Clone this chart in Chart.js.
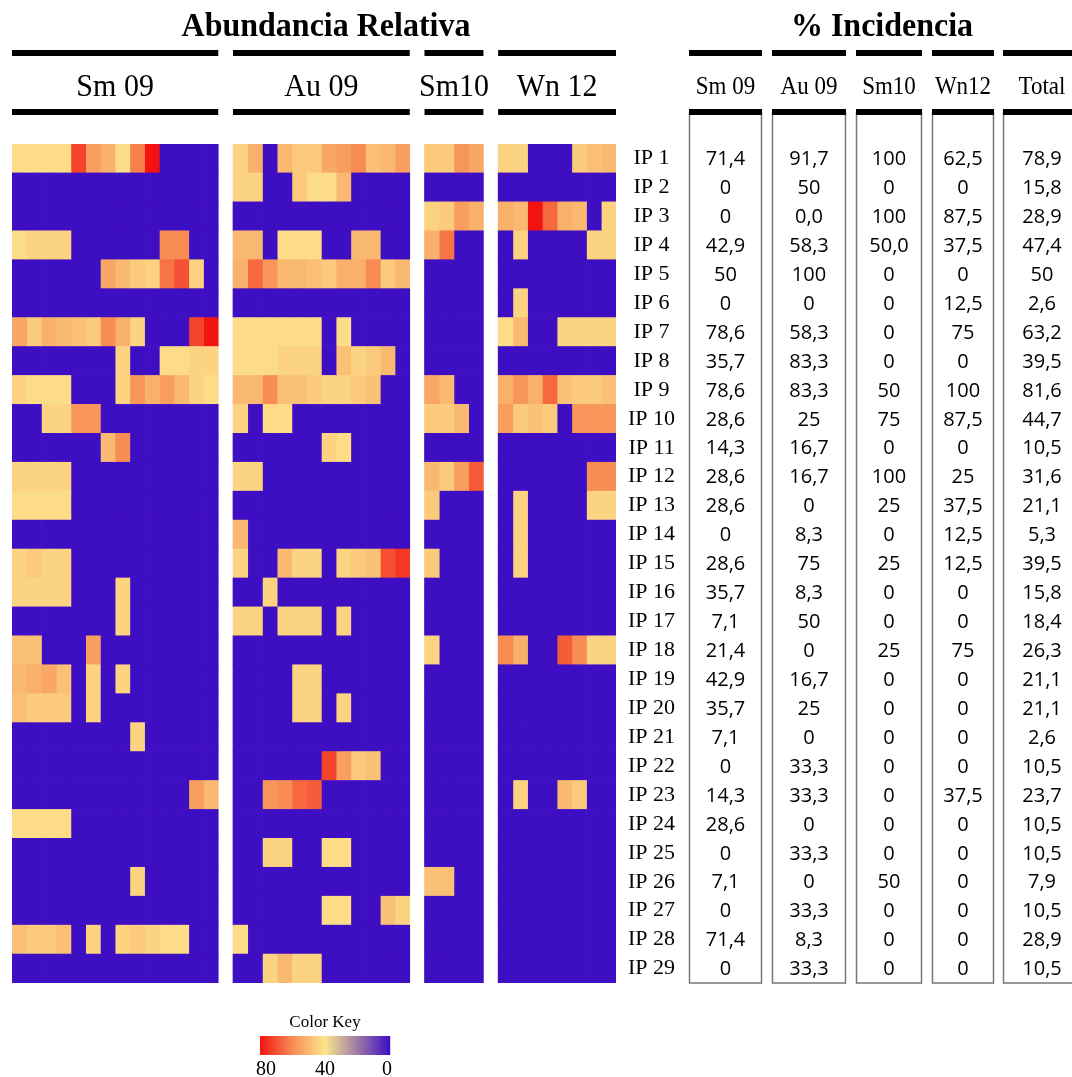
<!DOCTYPE html>
<html>
<head>
<meta charset="utf-8">
<script src="https://cdn.jsdelivr.net/npm/chart.js@4.4.1/dist/chart.umd.min.js"></script>
<style>
html,body{margin:0;padding:0;background:#fff;}
#wrap{position:relative;width:1072px;height:1077px;}
</style>
</head>
<body>
<div id="wrap"><canvas id="c" width="1072" height="1077"></canvas></div>
<script>
// ---------- DATA ----------
const rowLabels = ['IP 1','IP 2','IP 3','IP 4','IP 5','IP 6','IP 7','IP 8','IP 9','IP 10',
  'IP 11','IP 12','IP 13','IP 14','IP 15','IP 16','IP 17','IP 18','IP 19','IP 20',
  'IP 21','IP 22','IP 23','IP 24','IP 25','IP 26','IP 27','IP 28','IP 29'];

const groupNames = ['Sm 09', 'Au 09', 'Sm10', 'Wn 12'];

// relative abundance per sample (estimated from colour), rows = IP 1..IP 29
const abSm09 = [
  [42,42,42,42,72,56,52,42,62,80,0,0,0,0],
  [0,0,0,0,0,0,0,0,0,0,0,0,0,0],
  [0,0,0,0,0,0,0,0,0,0,0,0,0,0],
  [42,44,44,44,0,0,0,0,0,0,60,60,0,0],
  [0,0,0,0,0,0,54,50,46,44,64,70,44,0],
  [0,0,0,0,0,0,0,0,0,0,0,0,0,0],
  [54,46,52,50,48,46,60,52,44,0,0,0,72,80],
  [0,0,0,0,0,0,0,44,0,0,42,42,44,44],
  [44,42,42,42,0,0,0,44,58,52,56,50,44,42],
  [0,0,44,44,58,58,0,0,0,0,0,0,0,0],
  [0,0,0,0,0,0,50,60,0,0,0,0,0,0],
  [44,44,44,44,0,0,0,0,0,0,0,0,0,0],
  [42,42,42,42,0,0,0,0,0,0,0,0,0,0],
  [0,0,0,0,0,0,0,0,0,0,0,0,0,0],
  [44,46,44,44,0,0,0,0,0,0,0,0,0,0],
  [44,44,44,44,0,0,0,44,0,0,0,0,0,0],
  [0,0,0,0,0,0,0,44,0,0,0,0,0,0],
  [48,48,0,0,0,56,0,0,0,0,0,0,0,0],
  [50,52,54,48,0,44,0,44,0,0,0,0,0,0],
  [48,46,46,46,0,44,0,0,0,0,0,0,0,0],
  [0,0,0,0,0,0,0,0,44,0,0,0,0,0],
  [0,0,0,0,0,0,0,0,0,0,0,0,0,0],
  [0,0,0,0,0,0,0,0,0,0,0,0,56,50],
  [42,42,42,42,0,0,0,0,0,0,0,0,0,0],
  [0,0,0,0,0,0,0,0,0,0,0,0,0,0],
  [0,0,0,0,0,0,0,0,44,0,0,0,0,0],
  [0,0,0,0,0,0,0,0,0,0,0,0,0,0],
  [48,46,46,48,0,44,0,44,46,44,42,42,0,0],
  [0,0,0,0,0,0,0,0,0,0,0,0,0,0]
];
const abAu09 = [
  [44,52,0,50,46,46,54,56,60,48,50,56],
  [44,44,0,0,46,42,42,50,0,0,0,0],
  [0,0,0,0,0,0,0,0,0,0,0,0],
  [50,50,0,42,42,42,0,0,50,50,0,0],
  [52,66,58,50,50,48,46,52,52,60,46,50],
  [0,0,0,0,0,0,0,0,0,0,0,0],
  [42,42,42,42,42,42,0,42,0,0,0,0],
  [42,42,42,44,44,44,0,48,44,46,50,0],
  [50,50,60,48,48,46,44,44,46,48,0,0],
  [44,0,42,42,0,0,0,0,0,0,0,0],
  [0,0,0,0,0,0,44,42,0,0,0,0],
  [44,44,0,0,0,0,0,0,0,0,0,0],
  [0,0,0,0,0,0,0,0,0,0,0,0],
  [50,0,0,0,0,0,0,0,0,0,0,0],
  [44,0,0,50,44,44,0,44,46,48,70,74],
  [0,0,44,0,0,0,0,0,0,0,0,0],
  [44,44,0,44,44,44,0,44,0,0,0,0],
  [0,0,0,0,0,0,0,0,0,0,0,0],
  [0,0,0,0,44,44,0,0,0,0,0,0],
  [0,0,0,0,44,44,0,44,0,0,0,0],
  [0,0,0,0,0,0,0,0,0,0,0,0],
  [0,0,0,0,0,0,72,56,46,48,0,0],
  [0,0,58,60,66,68,0,0,0,0,0,0],
  [0,0,0,0,0,0,0,0,0,0,0,0],
  [0,0,44,44,0,0,42,42,0,0,0,0],
  [0,0,0,0,0,0,0,0,0,0,0,0],
  [0,0,0,0,0,0,42,42,0,0,48,44],
  [42,0,0,0,0,0,0,0,0,0,0,0],
  [0,0,44,50,44,44,0,0,0,0,0,0]
];
const abSm10 = [
  [46,46,58,54],[0,0,0,0],[44,46,56,52],[52,64,0,0],[0,0,0,0],
  [0,0,0,0],[0,0,0,0],[0,0,0,0],[54,50,0,0],[46,46,50,0],
  [0,0,0,0],[50,46,56,68],[46,0,0,0],[0,0,0,0],[46,0,0,0],
  [0,0,0,0],[0,0,0,0],[44,0,0,0],[0,0,0,0],[0,0,0,0],
  [0,0,0,0],[0,0,0,0],[0,0,0,0],[0,0,0,0],[0,0,0,0],
  [48,48,0,0],[0,0,0,0],[0,0,0,0],[0,0,0,0]
];
const abWn12 = [
  [44,44,0,0,0,46,48,50],
  [0,0,0,0,0,0,0,0],
  [52,50,80,66,52,50,0,44],
  [0,44,0,0,0,0,44,44],
  [0,0,0,0,0,0,0,0],
  [0,44,0,0,0,0,0,0],
  [42,50,0,0,44,44,44,44],
  [0,0,0,0,0,0,0,0],
  [52,58,52,66,48,46,46,48],
  [56,46,48,46,0,58,58,58],
  [0,0,0,0,0,0,0,0],
  [0,0,0,0,0,0,60,60],
  [0,44,0,0,0,0,44,44],
  [0,44,0,0,0,0,0,0],
  [0,44,0,0,0,0,0,0],
  [0,0,0,0,0,0,0,0],
  [0,0,0,0,0,0,0,0],
  [60,52,0,0,68,60,44,44],
  [0,0,0,0,0,0,0,0],
  [0,0,0,0,0,0,0,0],
  [0,0,0,0,0,0,0,0],
  [0,0,0,0,0,0,0,0],
  [0,44,0,0,50,46,0,0],
  [0,0,0,0,0,0,0,0],
  [0,0,0,0,0,0,0,0],
  [0,0,0,0,0,0,0,0],
  [0,0,0,0,0,0,0,0],
  [0,0,0,0,0,0,0,0],
  [0,0,0,0,0,0,0,0]
];

// % incidence table
const incHeaders = ['Sm 09', 'Au 09', 'Sm10', 'Wn12', 'Total'];
const incSm09 = ['71,4','0','0','42,9','50','0','78,6','35,7','78,6','28,6','14,3','28,6','28,6','0','28,6','35,7','7,1','21,4','42,9','35,7','7,1','0','14,3','28,6','0','7,1','0','71,4','0'];
const incAu09 = ['91,7','50','0,0','58,3','100','0','58,3','83,3','83,3','25','16,7','16,7','0','8,3','75','8,3','50','0','16,7','25','0','33,3','33,3','0','33,3','0','33,3','8,3','33,3'];
const incSm10 = ['100','0','100','50,0','0','0','0','0','50','75','0','100','25','0','25','0','0','25','0','0','0','0','0','0','0','50','0','0','0'];
const incWn12 = ['62,5','0','87,5','37,5','0','12,5','75','0','100','87,5','0','25','37,5','12,5','12,5','0','0','75','0','0','0','0','37,5','0','0','0','0','0','0'];
const incTotal = ['78,9','15,8','28,9','47,4','50','2,6','63,2','39,5','81,6','44,7','10,5','31,6','21,1','5,3','39,5','15,8','18,4','26,3','21,1','21,1','2,6','10,5','23,7','10,5','10,5','7,9','10,5','28,9','10,5'];

const keyTicks = [80, 40, 0];

// ---------- COLOUR SCALE ----------
const stops = [[0,[62,14,194]],[40,[252,229,140]],[60,[247,140,84]],[80,[243,20,18]]];
function colorFor(v){
  if (v <= 0) return 'rgb(62,14,194)';
  for (let i=1;i<stops.length;i++){
    if (v <= stops[i][0]){
      const [v0,c0]=stops[i-1],[v1,c1]=stops[i];
      const t=(v-v0)/(v1-v0);
      const c=c0.map((a,k)=>Math.round(a+(c1[k]-a)*t));
      return `rgb(${c[0]},${c[1]},${c[2]})`;
    }
  }
  const c=stops[stops.length-1][1];
  return `rgb(${c[0]},${c[1]},${c[2]})`;
}

// ---------- BUILD DATASETS ----------
const groups = [abSm09, abAu09, abSm10, abWn12];
const datasets = [];
const groupSpans = [];
let colIndex = 0;
groups.forEach((g, gi) => {
  if (gi > 0) { // spacer column between groups
    datasets.push({data: rowLabels.map(()=>1), backgroundColor: 'rgba(0,0,0,0)', inflateAmount: 0});
    colIndex++;
  }
  const nCols = g[0].length;
  groupSpans.push([colIndex, colIndex + nCols]);
  for (let c=0;c<nCols;c++){
    datasets.push({
      data: rowLabels.map(()=>1),
      backgroundColor: g.map(row => colorFor(row[c]))
    });
    colIndex++;
  }
});
const totalCols = colIndex;

// ---------- DECORATION PLUGIN ----------
const SERIF = '"Liberation Serif", "Times New Roman", serif';
const SANS = '"Open Sans", "Noto Sans", sans-serif';
function stretchedText(ctx, txt, x, y, font, sy){
  ctx.save();
  ctx.font = font;
  ctx.translate(x, y);
  ctx.scale(1, sy);
  ctx.fillText(txt, 0, 0);
  ctx.restore();
}
const tableCols = [[689,762],[772,846],[856,922],[932,994],[1003,1080]];
const tableVals = [incSm09, incAu09, incSm10, incWn12, incTotal];

const decor = {
  id: 'decor',
  afterDraw(chart){
    const ctx = chart.ctx;
    const xS = chart.scales.x, yS = chart.scales.y;
    ctx.save();
    ctx.fillStyle = '#000';
    ctx.textAlign = 'center';
    ctx.textBaseline = 'alphabetic';
    // titles
    stretchedText(ctx, 'Abundancia Relativa', 326, 36, 'bold 32px ' + SERIF, 1.08);
    stretchedText(ctx, '% Incidencia', 882, 36, 'bold 32px ' + SERIF, 1.08);
    // heatmap group bars and labels
    groupSpans.forEach(([a,b], gi) => {
      const x0 = xS.getPixelForValue(a), x1 = xS.getPixelForValue(b);
      ctx.fillStyle = '#000';
      ctx.fillRect(x0, 50, x1-x0, 6);
      ctx.fillRect(x0, 109, x1-x0, 6);
      stretchedText(ctx, groupNames[gi], (x0+x1)/2, 96, '30px ' + SERIF, 1.08);
    });
    // incidence table
    tableCols.forEach(([x0,x1], ci) => {
      ctx.strokeStyle = '#777';
      ctx.lineWidth = 1.5;
      ctx.strokeRect(x0+0.5, 113, x1-x0-1, 983-113);
      ctx.fillStyle = '#000';
      ctx.fillRect(x0, 50, x1-x0, 6);
      ctx.fillRect(x0, 109, x1-x0, 6);
      const cx = ci === 4 ? 1042 : (x0+x1)/2;
      stretchedText(ctx, incHeaders[ci], cx, 94, '23px ' + SERIF, 1.06);
      ctx.font = '20px ' + SANS;
      ctx.textBaseline = 'middle';
      tableVals[ci].forEach((v, ri) => {
        ctx.fillText(v, cx, yS.getPixelForValue(ri) + 1);
      });
      ctx.textBaseline = 'alphabetic';
    });
    // colour key
    const kx0 = 260, kx1 = 390, ky0 = 1036, ky1 = 1055;
    const maxV = keyTicks[0];
    for (let px = kx0; px < kx1; px++){
      const v = maxV * (1 - (px - kx0 + 0.5)/(kx1 - kx0));
      ctx.fillStyle = colorFor(v);
      ctx.fillRect(px, ky0, 1.2, ky1-ky0);
    }
    ctx.fillStyle = '#000';
    ctx.font = '17px ' + SERIF;
    ctx.textAlign = 'center';
    ctx.fillText('Color Key', 325, 1027);
    ctx.font = '20px ' + SERIF;
    keyTicks.forEach(t => {
      const px = kx0 + (1 - t/maxV)*(kx1-kx0);
      ctx.fillText(String(t), px + (t===maxV?6:(t===0?-3:0)), 1075);
    });
    ctx.restore();
  }
};

new Chart(document.getElementById('c'), {
  type: 'bar',
  data: { labels: rowLabels, datasets },
  options: {
    indexAxis: 'y',
    responsive: false,
    animation: false,
    events: [],
    layout: { padding: { left: 12, top: 144, right: 384, bottom: 94 } },
    datasets: { bar: { barPercentage: 1, categoryPercentage: 1, borderWidth: 0 } },
    plugins: { legend: { display: false }, tooltip: { enabled: false } },
    scales: {
      x: { type: 'linear', stacked: true, min: 0, max: totalCols, display: false },
      y: {
        stacked: true,
        position: 'right',
        grid: { display: false, drawTicks: false },
        border: { display: false },
        ticks: { color: '#000', font: { family: SERIF, size: 22 }, crossAlign: 'center', padding: 12, autoSkip: false },
        afterFit(scale){ scale.width = 72; }
      }
    }
  },
  plugins: [decor]
});
</script>
</body>
</html>
